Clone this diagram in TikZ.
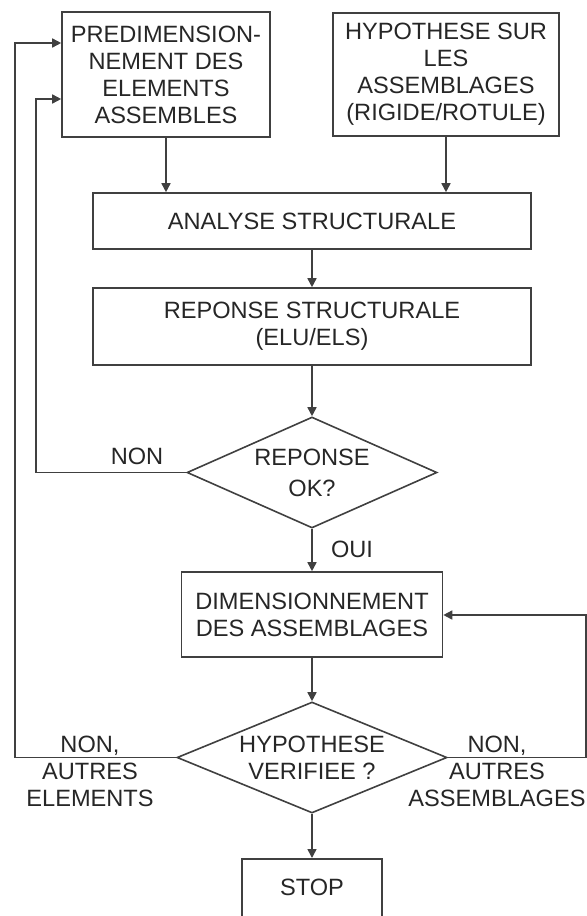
\documentclass[tikz,border=0pt]{standalone}
\usepackage{fontspec}
\setmainfont{Liberation Sans}
\usetikzlibrary{shapes.geometric,arrows.meta}

\begin{document}
\begin{tikzpicture}[x=0.5pt, y=-0.5pt,
    every node/.style={font=\fontsize{11.8}{13.5}\selectfont, text=black!85, align=center},
    bloc/.style={draw=black!75, line width=0.8pt, inner sep=0pt},
    losange/.style={draw=black!75, line width=0.8pt, diamond, inner sep=0pt},
    fleche/.style={draw=black!75, line width=0.8pt, -{Triangle[length=4.5pt,width=4.5pt]}}]
    \useasboundingbox (0,0) rectangle (587,916);

    \node[bloc, minimum width=104pt, minimum height=62.5pt] (predim) at (166,74.5) {PREDIMENSION-\\NEMENT DES\\ELEMENTS\\ASSEMBLES};
    \node[bloc, minimum width=113pt, minimum height=61.5pt] (hypass) at (446,74.5) {HYPOTHESE SUR\\LES\\ASSEMBLAGES\\(RIGIDE/ROTULE)};
    \node[bloc, minimum width=219pt, minimum height=28pt] (analyse) at (312,221) {ANALYSE STRUCTURALE};
    \node[bloc, minimum width=219pt, minimum height=38.5pt] (reponse) at (312,326.5) {REPONSE STRUCTURALE\\(ELU/ELS)};
    \node[losange, minimum width=125pt, minimum height=55.5pt] (ok) at (312,472.5) {};
    \node at (ok) {REPONSE\\[2pt]OK?};
    \node[bloc, minimum width=130.5pt, minimum height=42.5pt] (dim) at (312,614.5) {DIMENSIONNEMENT\\DES ASSEMBLAGES};
    \node[losange, minimum width=135pt, minimum height=55.5pt] (hyp) at (312,757.5) {};
    \node at (hyp) {HYPOTHESE\\VERIFIEE ?};
    \node[bloc, minimum width=70pt, minimum height=36pt, anchor=north] (stop) at (312,858) {};
    \node at (312,887) {STOP};

    \coordinate (retourA) at (15,43);
    \coordinate (retourB) at (36,99);
    \coordinate (retourC) at (586,615);

    \draw[fleche] (predim.south) -- (predim.south |- analyse.north);
    \draw[fleche] (hypass.south) -- (hypass.south |- analyse.north);
    \draw[fleche] (analyse.south) -- (reponse.north);
    \draw[fleche] (reponse.south) -- (ok.north);
    \draw[fleche] (ok.south) -- (ok.south |- dim.north);
    \draw[fleche] (dim.south) -- (hyp.north);
    \draw[fleche] (hyp.south) -- (stop.north);

    \draw[fleche] (ok.west) -| (retourB) -- (retourB -| predim.west);
    \draw[fleche] (hyp.west) -| (retourA) -- (retourA -| predim.west);
    \draw[fleche] (hyp.east) -| (retourC) -- (retourC -| dim.east);

    \node (non) at (137,456) {NON};
    \node (oui) at (352,549) {OUI};
    \node (nonelem) at (90,771) {NON,\\AUTRES\\ELEMENTS};
    \node (nonass) at (497,771) {NON,\\AUTRES\\ASSEMBLAGES};
\end{tikzpicture}
\end{document}
